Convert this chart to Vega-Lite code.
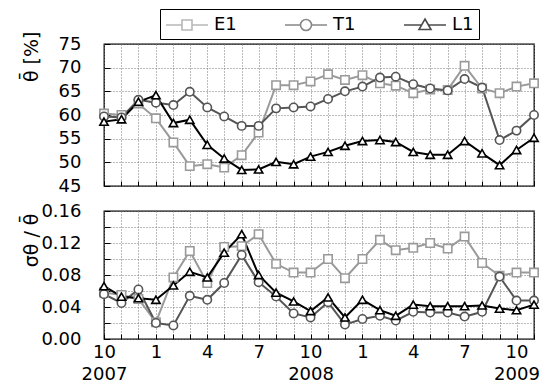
{
  "$schema": "https://vega.github.io/schema/vega-lite/v6.json",
  "padding": {"left": 21, "top": 7, "right": 5, "bottom": 2},
  "datasets": {
    "d": [
      {"date": "2007-10-01", "series": "E1", "theta": 60.3, "cv": 0.058},
      {"date": "2007-11-01", "series": "E1", "theta": 60.0, "cv": 0.055},
      {"date": "2007-12-01", "series": "E1", "theta": 62.4, "cv": 0.050},
      {"date": "2008-01-01", "series": "E1", "theta": 59.3, "cv": 0.021},
      {"date": "2008-02-01", "series": "E1", "theta": 54.2, "cv": 0.077},
      {"date": "2008-03-01", "series": "E1", "theta": 49.2, "cv": 0.110},
      {"date": "2008-04-01", "series": "E1", "theta": 49.6, "cv": 0.070},
      {"date": "2008-05-01", "series": "E1", "theta": 48.9, "cv": 0.115},
      {"date": "2008-06-01", "series": "E1", "theta": 51.5, "cv": 0.116},
      {"date": "2008-07-01", "series": "E1", "theta": 56.3, "cv": 0.131},
      {"date": "2008-08-01", "series": "E1", "theta": 66.3, "cv": 0.094},
      {"date": "2008-09-01", "series": "E1", "theta": 66.3, "cv": 0.083},
      {"date": "2008-10-01", "series": "E1", "theta": 67.1, "cv": 0.083},
      {"date": "2008-11-01", "series": "E1", "theta": 68.6, "cv": 0.100},
      {"date": "2008-12-01", "series": "E1", "theta": 67.4, "cv": 0.076},
      {"date": "2009-01-01", "series": "E1", "theta": 68.4, "cv": 0.100},
      {"date": "2009-02-01", "series": "E1", "theta": 66.7, "cv": 0.124},
      {"date": "2009-03-01", "series": "E1", "theta": 66.2, "cv": 0.111},
      {"date": "2009-04-01", "series": "E1", "theta": 64.6, "cv": 0.114},
      {"date": "2009-05-01", "series": "E1", "theta": 65.4, "cv": 0.120},
      {"date": "2009-06-01", "series": "E1", "theta": 65.3, "cv": 0.113},
      {"date": "2009-07-01", "series": "E1", "theta": 70.4, "cv": 0.128},
      {"date": "2009-08-01", "series": "E1", "theta": 65.6, "cv": 0.095},
      {"date": "2009-09-01", "series": "E1", "theta": 64.6, "cv": 0.079},
      {"date": "2009-10-01", "series": "E1", "theta": 66.0, "cv": 0.083},
      {"date": "2009-11-01", "series": "E1", "theta": 66.7, "cv": 0.083},
      {"date": "2007-10-01", "series": "T1", "theta": 59.7, "cv": 0.056},
      {"date": "2007-11-01", "series": "T1", "theta": 59.5, "cv": 0.045},
      {"date": "2007-12-01", "series": "T1", "theta": 63.2, "cv": 0.062},
      {"date": "2008-01-01", "series": "T1", "theta": 62.6, "cv": 0.020},
      {"date": "2008-02-01", "series": "T1", "theta": 62.1, "cv": 0.017},
      {"date": "2008-03-01", "series": "T1", "theta": 64.9, "cv": 0.054},
      {"date": "2008-04-01", "series": "T1", "theta": 61.6, "cv": 0.049},
      {"date": "2008-05-01", "series": "T1", "theta": 59.7, "cv": 0.070},
      {"date": "2008-06-01", "series": "T1", "theta": 57.7, "cv": 0.105},
      {"date": "2008-07-01", "series": "T1", "theta": 57.7, "cv": 0.071},
      {"date": "2008-08-01", "series": "T1", "theta": 61.4, "cv": 0.053},
      {"date": "2008-09-01", "series": "T1", "theta": 61.6, "cv": 0.032},
      {"date": "2008-10-01", "series": "T1", "theta": 61.8, "cv": 0.027},
      {"date": "2008-11-01", "series": "T1", "theta": 63.4, "cv": 0.046},
      {"date": "2008-12-01", "series": "T1", "theta": 65.0, "cv": 0.018},
      {"date": "2009-01-01", "series": "T1", "theta": 66.0, "cv": 0.025},
      {"date": "2009-02-01", "series": "T1", "theta": 67.9, "cv": 0.029},
      {"date": "2009-03-01", "series": "T1", "theta": 68.1, "cv": 0.023},
      {"date": "2009-04-01", "series": "T1", "theta": 66.5, "cv": 0.034},
      {"date": "2009-05-01", "series": "T1", "theta": 65.6, "cv": 0.033},
      {"date": "2009-06-01", "series": "T1", "theta": 65.2, "cv": 0.033},
      {"date": "2009-07-01", "series": "T1", "theta": 67.6, "cv": 0.028},
      {"date": "2009-08-01", "series": "T1", "theta": 65.8, "cv": 0.034},
      {"date": "2009-09-01", "series": "T1", "theta": 54.7, "cv": 0.078},
      {"date": "2009-10-01", "series": "T1", "theta": 56.7, "cv": 0.048},
      {"date": "2009-11-01", "series": "T1", "theta": 60.0, "cv": 0.048},
      {"date": "2007-10-01", "series": "L1", "theta": 58.6, "cv": 0.066},
      {"date": "2007-11-01", "series": "L1", "theta": 59.1, "cv": 0.053},
      {"date": "2007-12-01", "series": "L1", "theta": 62.8, "cv": 0.051},
      {"date": "2008-01-01", "series": "L1", "theta": 64.2, "cv": 0.049},
      {"date": "2008-02-01", "series": "L1", "theta": 58.3, "cv": 0.067},
      {"date": "2008-03-01", "series": "L1", "theta": 59.0, "cv": 0.084},
      {"date": "2008-04-01", "series": "L1", "theta": 53.7, "cv": 0.077},
      {"date": "2008-05-01", "series": "L1", "theta": 50.8, "cv": 0.108},
      {"date": "2008-06-01", "series": "L1", "theta": 48.4, "cv": 0.131},
      {"date": "2008-07-01", "series": "L1", "theta": 48.5, "cv": 0.080},
      {"date": "2008-08-01", "series": "L1", "theta": 50.1, "cv": 0.058},
      {"date": "2008-09-01", "series": "L1", "theta": 49.6, "cv": 0.047},
      {"date": "2008-10-01", "series": "L1", "theta": 51.2, "cv": 0.035},
      {"date": "2008-11-01", "series": "L1", "theta": 52.2, "cv": 0.052},
      {"date": "2008-12-01", "series": "L1", "theta": 53.5, "cv": 0.027},
      {"date": "2009-01-01", "series": "L1", "theta": 54.5, "cv": 0.049},
      {"date": "2009-02-01", "series": "L1", "theta": 54.7, "cv": 0.036},
      {"date": "2009-03-01", "series": "L1", "theta": 54.3, "cv": 0.029},
      {"date": "2009-04-01", "series": "L1", "theta": 52.2, "cv": 0.043},
      {"date": "2009-05-01", "series": "L1", "theta": 51.6, "cv": 0.041},
      {"date": "2009-06-01", "series": "L1", "theta": 51.6, "cv": 0.041},
      {"date": "2009-07-01", "series": "L1", "theta": 54.5, "cv": 0.041},
      {"date": "2009-08-01", "series": "L1", "theta": 51.9, "cv": 0.042},
      {"date": "2009-09-01", "series": "L1", "theta": 49.4, "cv": 0.038},
      {"date": "2009-10-01", "series": "L1", "theta": 52.6, "cv": 0.036},
      {"date": "2009-11-01", "series": "L1", "theta": 55.2, "cv": 0.043}
    ]
  },
  "data": {"name": "d"},
  "config": {
    "font": "DejaVu Sans",
    "view": {"stroke": "#000", "strokeWidth": 1.3},
    "axis": {
      "gridColor": "#777", "gridDash": [1, 2], "gridWidth": 1, "gridOpacity": 1,
      "labelFontSize": 18, "labelFont": "DejaVu Sans", "labelColor": "#000",
      "titleFont": "DejaVu Sans", "titleFontWeight": "normal", "titleColor": "#000",
      "tickColor": "#000", "tickWidth": 1, "domain": false, "labelOverlap": false
    }
  },
  "spacing": 5,
  "resolve": {"scale": {"shape": "independent", "color": "independent", "stroke": "independent"}},
  "vconcat": [
    {
      "width": 430,
      "height": 142,
      "layer": [
        {
          "mark": {"type": "line", "strokeWidth": 2},
          "encoding": {
            "x": {"field": "date", "type": "temporal",
              "scale": {"type": "utc", "domain": [{"year": 2007, "month": 10, "date": 1, "utc": true}, {"year": 2009, "month": 11, "date": 1, "utc": true}]},
              "axis": {"title": null, "labels": false, "ticks": true, "tickSize": -5, "grid": true, "tickCount": {"interval": "month", "step": 1}}},
            "y": {"field": "theta", "type": "quantitative",
              "scale": {"domain": [45, 75], "nice": false, "zero": false},
              "axis": {"title": "θ̄ [%]", "values": [45, 50, 55, 60, 65, 70, 75], "tickCount": 50, "format": "d", "ticks": true, "tickSize": -6, "labelPadding": 29,
                "titleX": -63, "titleY": -13, "titleAnchor": "end", "titleFontSize": 19, "grid": true}},
            "color": {"field": "series", "type": "nominal", "scale": {"domain": ["E1", "T1", "L1"], "range": ["#9a9a9a", "#555555", "#000000"]}, "legend": null}
          }
        },
        {
          "mark": {"type": "point", "filled": false, "fill": "white", "size": 70, "strokeWidth": 1.6, "opacity": 1},
          "encoding": {
            "x": {"field": "date", "type": "temporal"},
            "y": {"field": "theta", "type": "quantitative"},
            "color": {"field": "series", "type": "nominal", "scale": {"domain": ["E1", "T1", "L1"], "range": ["#9a9a9a", "#555555", "#000000"]}, "legend": null},
            "shape": {"field": "series", "type": "nominal", "scale": {"domain": ["E1", "T1", "L1"], "range": ["square", "circle", "triangle-up"]}, "legend": null}
          }
        },
        {
          "transform": [{"filter": "false"}],
          "mark": {"type": "point", "filled": false, "fill": "white", "strokeWidth": 1.6},
          "encoding": {
            "x": {"field": "date", "type": "temporal"},
            "y": {"field": "theta", "type": "quantitative"},
            "shape": {"field": "series", "type": "nominal",
              "scale": {"domain": ["E1", "T1", "L1"], "range": [
                "M-1,0H0.6M1.6,0H3.2M0.6,-0.5H1.6V0.5H0.6Z",
                "M-1,0H0.55M1.65,0H3.2M0.55,0A0.55,0.55,0,1,1,1.65,0A0.55,0.55,0,1,1,0.55,0Z",
                "M-1,0H0.76M1.44,0H3.2M1.1,-0.6L1.7,0.45H0.5Z"]},
              "legend": {"orient": "none", "legendX": 56, "legendY": -35, "direction": "horizontal", "title": null,
                "strokeColor": "#000", "fillColor": "#fff", "padding": 5, "symbolSize": 400, "symbolStrokeWidth": 1.6,
                "symbolFillColor": "#fff", "labelFontSize": 18, "labelOffset": 27, "columnPadding": 44, "labelColor": "#000"}},
            "stroke": {"field": "series", "type": "nominal",
              "scale": {"domain": ["E1", "T1", "L1"], "range": ["#9a9a9a", "#555555", "#000000"]},
              "legend": {"orient": "none", "legendX": 56, "legendY": -35, "direction": "horizontal", "title": null,
                "strokeColor": "#000", "fillColor": "#fff", "padding": 5, "symbolSize": 400, "symbolStrokeWidth": 1.6,
                "symbolFillColor": "#fff", "labelFontSize": 18, "labelOffset": 27, "columnPadding": 44, "labelColor": "#000"}}
          }
        }
      ],
      "resolve": {"scale": {"shape": "independent", "stroke": "independent"}}
    },
    {
      "width": 430,
      "height": 128,
      "layer": [
        {
          "mark": {"type": "line", "strokeWidth": 2},
          "encoding": {
            "x": {"field": "date", "type": "temporal",
              "scale": {"type": "utc", "domain": [{"year": 2007, "month": 10, "date": 1, "utc": true}, {"year": 2009, "month": 11, "date": 1, "utc": true}]},
              "axis": {"title": null, "ticks": true, "tickSize": -5, "labelPadding": 9, "grid": true,
                "tickCount": {"interval": "month", "step": 1}, "labelOverlap": false, "labelFlush": false, "labelBound": false,
                "labelLineHeight": 22,
                "labelExpr": "utcmonth(datum.value) == 9 ? [toString(utcmonth(datum.value) + 1), toString(utcyear(datum.value))] : (utcmonth(datum.value) % 3 == 0 ? toString(utcmonth(datum.value) + 1) : '')"}},
            "y": {"field": "cv", "type": "quantitative",
              "scale": {"domain": [0, 0.16], "nice": false},
              "axis": {"title": "σθ / θ̄", "values": [0, 0.02, 0.04, 0.06, 0.08, 0.1, 0.12, 0.14, 0.16], "tickCount": 50,
                "labelExpr": "round(datum.value * 100) % 4 == 0 ? format(datum.value, '.2f') : ''",
                "ticks": true, "tickSize": -6, "labelPadding": 29, "titleX": -63, "titleY": 2, "titleAnchor": "end", "titleFontSize": 19, "grid": true}},
            "color": {"field": "series", "type": "nominal", "scale": {"domain": ["E1", "T1", "L1"], "range": ["#9a9a9a", "#555555", "#000000"]}, "legend": null}
          }
        },
        {
          "mark": {"type": "point", "filled": false, "fill": "white", "size": 70, "strokeWidth": 1.6, "opacity": 1},
          "encoding": {
            "x": {"field": "date", "type": "temporal"},
            "y": {"field": "cv", "type": "quantitative"},
            "color": {"field": "series", "type": "nominal", "scale": {"domain": ["E1", "T1", "L1"], "range": ["#9a9a9a", "#555555", "#000000"]}, "legend": null},
            "shape": {"field": "series", "type": "nominal", "scale": {"domain": ["E1", "T1", "L1"], "range": ["square", "circle", "triangle-up"]}, "legend": null}
          }
        }
      ]
    }
  ]
}
